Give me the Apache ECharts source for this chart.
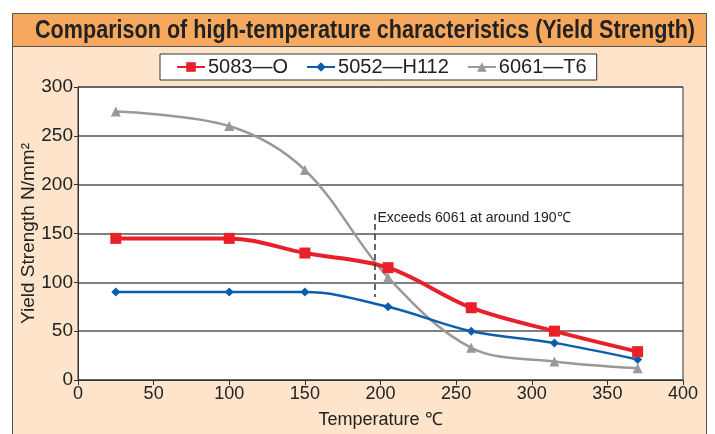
<!DOCTYPE html>
<html><head><meta charset="utf-8">
<script src="https://cdn.jsdelivr.net/npm/echarts@6/dist/echarts.min.js"></script>
<style>html,body{margin:0;padding:0;background:#fff}#c{width:715px;height:434px}</style>
</head><body><div id="c"></div>
<script>
const temps = [25, 100, 150, 205, 260, 315, 370];
const s5083 = [145, 145, 130, 115, 74, 50, 29];
const s5052 = [90, 90, 90, 75, 50, 38, 21];
const s6061 = [275, 260, 215, 105, 33, 19, 12];
const names = ['5083\u2014O', '5052\u2014H112', '6061\u2014T6'];
const titleText = 'Comparison of high-temperature characteristics (Yield Strength)';
const noteX = 196, noteTop = 170, noteBottom = 85;
const noteText = 'Exceeds 6061 at around 190\u2103';

const pair = (xs, ys) => xs.map((x, i) => [x, ys[i]]);
const font = 'Liberation Sans, Arial, sans-serif';
const titleFont = 'bold 25px "Liberation Sans", Arial, sans-serif';
const cv = document.createElement('canvas').getContext('2d');
cv.font = titleFont;
const titleScale = 660 / cv.measureText(titleText).width;

const chart = echarts.init(document.getElementById('c'));
chart.setOption({
  animation: false,
  textStyle: { fontFamily: font },
  graphic: [
    { type: 'rect', z: -10, shape: { x: 12.5, y: 13.5, width: 694, height: 440 },
      style: { fill: '#FDE4CB', stroke: '#555', lineWidth: 1 } },
    { type: 'rect', z: -9, shape: { x: 12.5, y: 13.5, width: 694, height: 33 },
      style: { fill: '#F6A95E', stroke: '#555', lineWidth: 1 } },
    { type: 'text', z: 10, x: 365, y: 31, scaleX: titleScale, scaleY: 1,
      style: { text: titleText, fill: '#222', font: titleFont,
        textAlign: 'center', textVerticalAlign: 'middle' } }
  ],
  legend: {
    top: 54, left: 160, itemGap: 18, itemWidth: 28, itemHeight: 12,
    backgroundColor: '#fff', borderColor: '#333', borderWidth: 1,
    padding: [3, 10, 3, 16],
    textStyle: { fontSize: 20, color: '#222', fontFamily: font, padding: [0, 0, 0, -2] },
    data: names
  },
  grid: { left: 78, right: 32, top: 87, bottom: 51, show: true, backgroundColor: '#fff', borderColor: '#333', borderWidth: 1 },
  xAxis: {
    type: 'value', min: 0, max: 400, interval: 50,
    name: 'Temperature \u2103', nameLocation: 'middle', nameGap: 31, nameMoveOverlap: false,
    nameTextStyle: { fontSize: 18, color: '#222' },
    axisLine: { lineStyle: { color: '#333' } },
    axisTick: { show: true, length: 5, inside: false, lineStyle: { color: '#333' } },
    axisLabel: { fontSize: 18, color: '#222', margin: 5 },
    splitLine: { show: false }
  },
  yAxis: {
    type: 'value', min: 0, max: 300, interval: 50,
    name: 'Yield Strength N/mm\u00B2', nameLocation: 'middle', nameGap: 40, nameMoveOverlap: false,
    nameTextStyle: { fontSize: 19, color: '#222' },
    axisLine: { show: true, lineStyle: { color: '#333' } },
    axisTick: { show: true, length: 4, inside: false, lineStyle: { color: '#333' } },
    axisLabel: { fontSize: 19, color: '#222', margin: 5 },
    splitLine: { show: true, lineStyle: { color: '#555', width: 1.5 } }
  },
  series: [
    { name: names[0], type: 'line', smooth: 0.35, data: pair(temps, s5083),
      symbol: 'rect', symbolSize: 11, color: '#E8202A', lineStyle: { width: 4 }, z: 4,
      markLine: { silent: true, symbol: 'none', label: { show: false },
        lineStyle: { type: [6, 4], color: '#333', width: 1.5 },
        data: [[{ coord: [noteX, noteTop] }, { coord: [noteX, noteBottom] }]] },
      markPoint: { silent: true, symbol: 'circle', symbolSize: 0,
        data: [{ coord: [noteX + 2, noteTop - 4] }],
        label: { show: true, position: 'right', distance: 0, formatter: noteText, fontSize: 14, color: '#222' } }
    },
    { name: names[1], type: 'line', smooth: 0.35, data: pair(temps, s5052),
      symbol: 'diamond', symbolSize: 9, color: '#0B5EAE', lineStyle: { width: 2.5 }, z: 3 },
    { name: names[2], type: 'line', smooth: 0.35, data: pair(temps, s6061),
      symbol: 'triangle', symbolSize: 10, color: '#999999', lineStyle: { width: 2.5 }, z: 2 }
  ]
});
</script></body></html>
